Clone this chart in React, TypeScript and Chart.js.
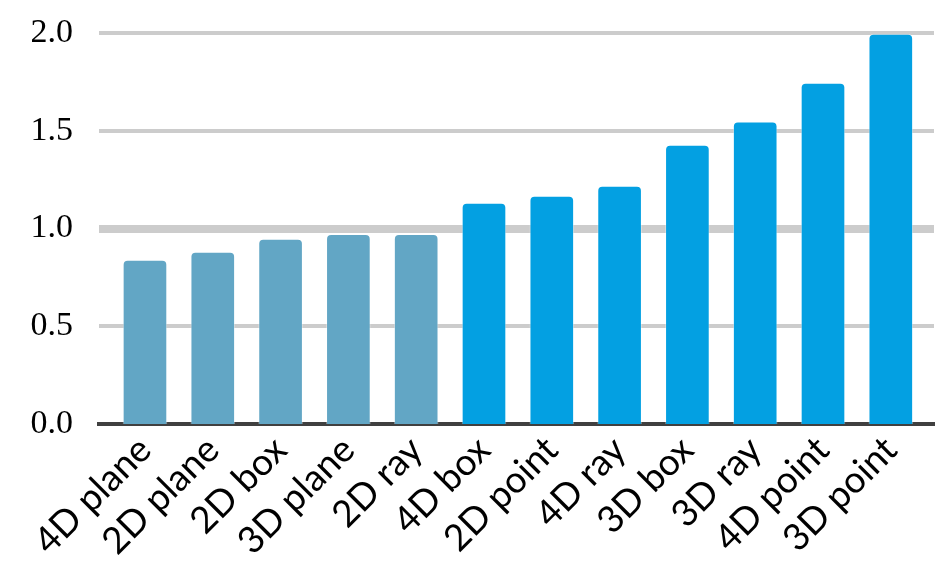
import React, { useEffect, useRef } from "react";
import { Chart, registerables } from "chart.js";

Chart.register(...registerables);

const categories = [
  "4D plane", "2D plane", "2D box", "3D plane", "2D ray", "4D box",
  "2D point", "4D ray", "3D box", "3D ray", "4D point", "3D point",
];
const values = [0.839, 0.88, 0.946, 0.97, 0.97, 1.13, 1.166, 1.217, 1.427, 1.545, 1.744, 1.995];
const groupA = new Set(["4D plane", "2D plane", "2D box", "3D plane", "2D ray"]);
const yTicks = [0, 0.5, 1, 1.5, 2];

const COLOR_A = "#62a6c5";
const COLOR_B = "#03a0e2";

export default function App() {
  const ref = useRef<HTMLCanvasElement | null>(null);
  useEffect(() => {
    document.body.style.margin = "0";
    const ctx = ref.current!;
    const chart = new Chart(ctx, {
      type: "bar",
      data: {
        datasets: [
          {
            data: values.map((v, i) => ({ x: i, y: v })),
            backgroundColor: categories.map((c) => (groupA.has(c) ? COLOR_A : COLOR_B)),
            borderColor: "rgba(255,255,255,0.35)",
            borderWidth: 1,
            borderSkipped: "bottom",
            borderRadius: 5,
            barThickness: 44,
          },
        ],
      },
      options: {
        responsive: false,
        animation: false,
        maintainAspectRatio: false,
        layout: { padding: { top: 33, right: 12, left: 0, bottom: 0 } },
        plugins: { legend: { display: false }, tooltip: { enabled: false } },
        scales: {
          x: {
            type: "linear",
            offset: false,
            min: -0.678,
            max: 11.637,
            afterBuildTicks: (s: any) => {
              s.ticks = categories.map((_, i) => ({ value: i }));
            },
            afterFit: (s: any) => {
              s.height = 161;
            },
            grid: { display: false, drawTicks: false },
            border: { display: true, color: "#404040", width: 4 },
            ticks: {
              autoSkip: false,
              minRotation: 45,
              maxRotation: 45,
              padding: 4,
              color: "#000",
              font: { family: "Lato", size: 37 },
              callback: (v: any) => categories[Math.round(Number(v))] ?? "",
            },
          },
          y: {
            min: 0,
            max: 2,
            afterBuildTicks: (s: any) => {
              s.ticks = yTicks.map((v) => ({ value: v }));
            },
            afterFit: (s: any) => {
              s.width = 99;
              s.paddingTop = 0;
              s.paddingBottom = 0;
            },
            border: { display: false },
            grid: {
              drawTicks: false,
              color: "#cccccc",
              lineWidth: (c: any) => (c.tick && c.tick.value === 0 ? 0 : c.tick && c.tick.value === 1 ? 8 : 4),
            },
            ticks: {
              padding: 26,
              color: "#000",
              font: { family: "Liberation Serif", size: 34 },
              callback: (v: any) => Number(v).toFixed(1),
            },
          },
        },
      },
    });
    return () => chart.destroy();
  }, []);
  return (
    <div style={{ position: "absolute", left: 0, top: 0, width: 946, height: 585, background: "#fff" }}>
      <canvas ref={ref} width={946} height={585} style={{ width: 946, height: 585 }} />
    </div>
  );
}
